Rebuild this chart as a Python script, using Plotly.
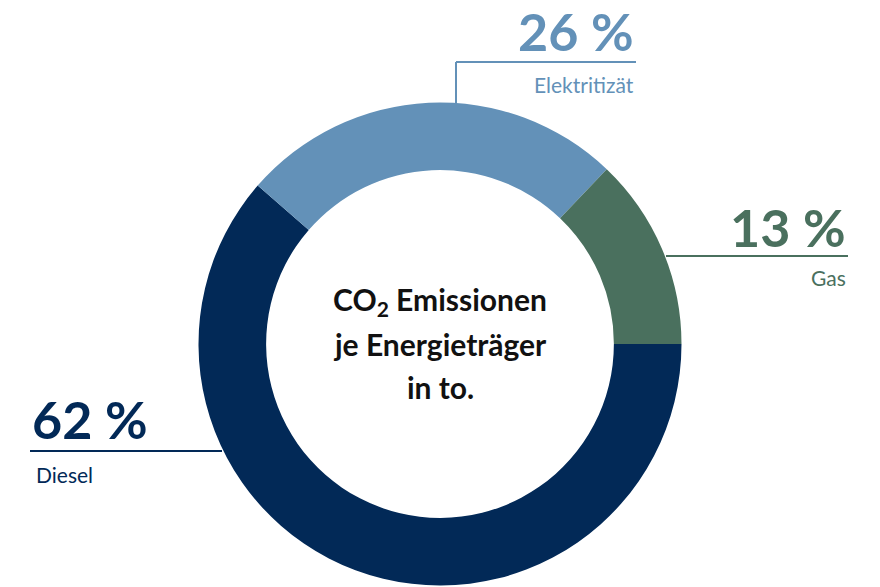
import plotly.graph_objects as go

W, H = 880, 587

labels = ["Diesel", "Elektritizät", "Gas"]
values = [62, 26, 13]
colors = ["#022957", "#6391b8", "#4a705e"]

FONT = "Lato, 'Noto Sans', Arial, sans-serif"


def px(x, y):
    # pixel position -> paper coords
    return x / W, 1 - y / H


fig = go.Figure(go.Pie(
    labels=labels, values=values, sort=False,
    direction="clockwise", rotation=90,
    hole=0.72, textinfo="none", hoverinfo="label+percent",
    marker=dict(colors=colors, line=dict(width=0)),
    domain=dict(x=[(440 - 241.5) / W, (440 + 241.5) / W],
                y=[(H - 344 - 241.5) / H, (H - 344 + 241.5) / H]),
    showlegend=False,
))

# leader lines: (points in pixels, color)
leaders = [
    ([(456, 103), (456, 62), (636, 62)], colors[1]),
    ([(666, 256), (848, 256)], colors[2]),
    ([(30, 451), (222, 451)], colors[0]),
]
for pts, col in leaders:
    for (x0, y0), (x1, y1) in zip(pts[:-1], pts[1:]):
        a0, b0 = px(x0, y0)
        a1, b1 = px(x1, y1)
        fig.add_shape(type="line", xref="paper", yref="paper",
                      x0=a0, y0=b0, x1=a1, y1=b1,
                      line=dict(color=col, width=2))

# percent + label text
texts = [
    (f"{values[1]} %", 636, 31, "right", 52, colors[1], True),
    (labels[1], 636, 84, "right", 21, colors[1], False),
    (f"{values[2]} %", 848, 227, "right", 52, colors[2], True),
    (labels[2], 848, 277, "right", 21, colors[2], False),
    (f"{values[0]} %", 30, 419, "left", 52, colors[0], True),
    (labels[0], 34, 474, "left", 21, colors[0], False),
]
for t, x, y, anchor, size, col, bold in texts:
    a, b = px(x, y)
    fig.add_annotation(xref="paper", yref="paper", x=a, y=b, text=f"<b>{t}</b>" if bold else t,
                       showarrow=False, xanchor=anchor, yanchor="middle",
                       font=dict(family=FONT, size=size, color=col))

center_lines = ["CO<sub>2</sub> Emissionen", "je Energieträger", "in to."]
for i, line in enumerate(center_lines):
    a, b = px(440, 301 + 43 * i)
    fig.add_annotation(xref="paper", yref="paper", x=a, y=b, text=f"<b>{line}</b>",
                       showarrow=False, xanchor="center", yanchor="middle",
                       font=dict(family=FONT, size=30, color="#111111"))

fig.update_layout(width=W, height=H, margin=dict(l=0, r=0, t=0, b=0),
                  paper_bgcolor="white", plot_bgcolor="white")

fig.write_html("out.html", config={"displayModeBar": False},
               post_script="document.body.style.margin='0';")
